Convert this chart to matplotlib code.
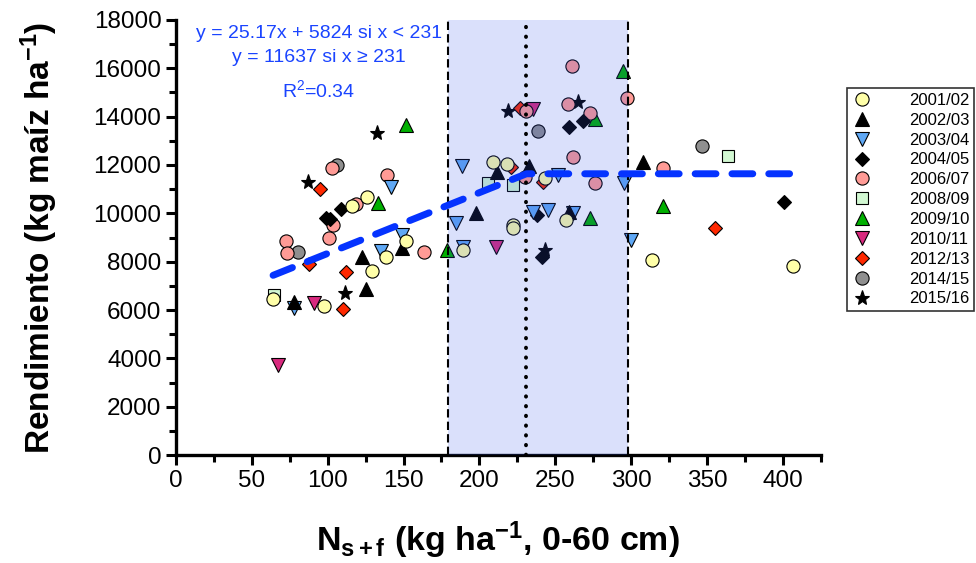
import numpy as np
import matplotlib
matplotlib.use("Agg")
from matplotlib import pyplot as plt
from matplotlib.ticker import MultipleLocator

plt.rcParams['font.family'] = ['Liberation Sans', 'DejaVu Sans']
plt.rcParams['mathtext.fontset'] = 'custom'
plt.rcParams['mathtext.rm'] = 'Liberation Sans'
plt.rcParams['mathtext.bf'] = 'Liberation Sans:bold'
plt.rcParams['mathtext.it'] = 'Liberation Sans:italic'

# N disponible (x) y rendimiento (y) por campaña
x_0102 = [64, 97.5, 116, 126, 129.5, 138.4, 151.3, 189.3, 208.7, 218.3, 222, 222, 243, 257, 314, 406.4]
y_0102 = [6450, 6165, 10300, 10660, 7620, 8207, 8850, 8483, 12137, 12027, 9517, 9380, 11448, 9724, 8069, 7821]

x_0203 = [78, 122.4, 125.2, 148.7, 197.7, 211.3, 232.6, 259.2, 308]
y_0203 = [6350, 8207, 6869, 8580, 10000, 11724, 11958, 10069, 12137]

x_0304 = [78, 135, 141.5, 148.7, 184.5, 188.7, 189, 235.5, 245, 252, 261.8, 295.2, 299.8]
y_0304 = [6100, 8455, 11077, 9103, 9586, 11972, 8620, 10069, 10150, 11586, 10000, 11242, 8897]

x_0405 = [98.8, 101.5, 108.7, 237.7, 241, 259, 268.4, 400.7]
y_0405 = [9820, 9753, 10166, 9931, 8207, 13559, 13834, 10455]

x_0607 = [72.3, 73, 101, 103, 103.7, 118.6, 139.3, 163.4, 230, 230.6, 258.5, 260.7, 261.8, 272.8, 276.1, 297, 321]
y_0607 = [8869, 8345, 8966, 11863, 9517, 10386, 11573, 8414, 11490, 14234, 14510, 16096, 12317, 14138, 11242, 14760, 11862]

x_0809 = [64.8, 205.4, 222.3, 363.5]
y_0809 = [6620, 11242, 11172, 12386]

x_0910 = [133.3, 151.3, 178.8, 272.8, 276.1, 294.4, 321.1]
y_0910 = [10414, 13655, 8483, 9793, 13890, 15901, 10290]

x_1011 = [67, 91, 210.7, 235.5]
y_1011 = [3724, 6303, 8620, 14303]

x_1213 = [87.9, 94.9, 109.8, 112, 221, 226.7, 242, 355.2]
y_1213 = [7890, 11007, 6041, 7586, 11904, 14346, 11310, 9407]

x_1415 = [80.2, 105.9, 238.8, 346.4]
y_1415 = [8414, 12000, 13406, 12786]

x_1516 = [86.8, 111.4, 132.2, 219, 243.2, 265.1]
y_1516 = [11309, 6690, 13311, 14248, 8483, 14594]

# modelo lineal-plateau
slope = 25.17
intercept = 5824
x_break = 231
plateau = 11637
x_min, x_max = 64, 406

# umbral inferior / superior del rango
x_lo, x_hi = 179, 298

series = [
    ("2001/02", x_0102, y_0102, 'o', 9.5, '#FFFFA8'),
    ("2002/03", x_0203, y_0203, '^', 10, 'black'),
    ("2003/04", x_0304, y_0304, 'v', 10, '#5FA8F5'),
    ("2004/05", x_0405, y_0405, 'D', 7.5, 'black'),
    ("2006/07", x_0607, y_0607, 'o', 9.5, '#FF9B96'),
    ("2008/09", x_0809, y_0809, 's', 9, '#D2F8D2'),
    ("2009/10", x_0910, y_0910, '^', 10, '#00B000'),
    ("2010/11", x_1011, y_1011, 'v', 10, '#D82A7E'),
    ("2012/13", x_1213, y_1213, 'D', 7.5, '#FF2800'),
    ("2014/15", x_1415, y_1415, 'o', 9.5, '#8F8F8F'),
    ("2015/16", x_1516, y_1516, '*', 11, 'black'),
]

fig = plt.figure(figsize=(9.76, 5.63), dpi=100)
ax = fig.add_axes([0.1803, 0.1918, 0.6607, 0.7727])

handles = []
n = len(series)
for i, (lab, xs, ys, mk, ms, col) in enumerate(series):
    # campañas más antiguas quedan encima
    h, = ax.plot(xs, ys, linestyle='none', marker=mk, ms=ms, mfc=col,
                 mec='black', mew=0.8, label=lab, zorder=3 + (n - i) * 0.01)
    handles.append(h)

ax.axvspan(x_lo, x_hi, color='#3355EE', alpha=0.18, lw=0, zorder=4)
ax.axvline(x_lo, color='black', ls=(0, (4, 2)), lw=1.5, zorder=5)
ax.axvline(x_hi, color='black', ls=(0, (4, 2)), lw=1.5, zorder=5)
ax.axvline(x_break, color='black', ls=(0, (0.1, 2.4)), lw=2.8,
           dash_capstyle='round', zorder=5)

xf = np.array([x_min, x_break, x_max], dtype=float)
yf = np.where(xf < x_break, slope * xf + intercept, plateau)
ax.plot(xf, yf, color='#0533FF', lw=5, ls=(0, (3, 2.3)),
        dash_capstyle='round', solid_capstyle='round', zorder=6)

blue = '#1A44FF'
ax.text(94, 17450, "y = 25.17x + 5824 si x < 231", color=blue, fontsize=14,
        ha='center', va='center')
ax.text(94, 16450, "y = 11637 si x \u2265 231", color=blue, fontsize=14,
        ha='center', va='center')
ax.text(94, 15100, r"R$^2$=0.34", color=blue, fontsize=14,
        ha='center', va='center')

ax.set_xlim(0, 425)
ax.set_ylim(0, 18000)
ax.xaxis.set_major_locator(MultipleLocator(50))
ax.xaxis.set_minor_locator(MultipleLocator(25))
ax.yaxis.set_major_locator(MultipleLocator(2000))
ax.yaxis.set_minor_locator(MultipleLocator(1000))

for s in ['top', 'right']:
    ax.spines[s].set_visible(False)
for s in ['left', 'bottom']:
    ax.spines[s].set_linewidth(2.4)

ax.tick_params(which='major', direction='out', length=7, width=2.2, labelsize=17.5)
ax.tick_params(which='minor', direction='out', length=5, width=2.2)

ax.set_xlabel(r"N$_{\mathbf{s+f}}$ (kg ha$^{\mathbf{-1}}$, 0-60 cm)",
              fontsize=24.5, fontweight='bold', labelpad=20)
ax.set_ylabel(r"Rendimiento (kg maíz ha$^{\mathbf{-1}}$)",
              fontsize=24, fontweight='bold', labelpad=24)

leg = fig.legend(handles=handles, loc='upper left',
                 bbox_to_anchor=(847 / 976, 1 - 88 / 563),
                 bbox_transform=fig.transFigure, fontsize=12,
                 frameon=True, fancybox=False, edgecolor='black',
                 labelspacing=0.29, handletextpad=2.2, borderpad=0.3,
                 handlelength=1.2, borderaxespad=0)
leg.get_frame().set_linewidth(1.2)

fig.savefig("out.png", dpi=100)
